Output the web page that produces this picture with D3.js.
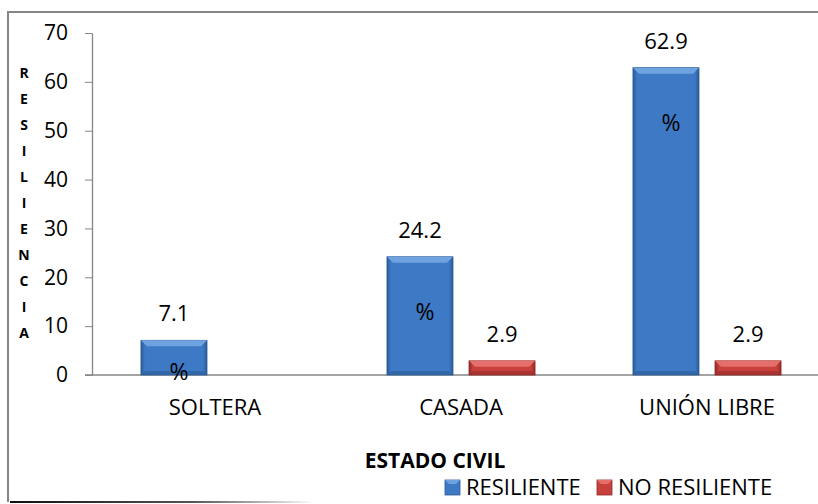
<!DOCTYPE html>
<html lang="es">
<head>
<meta charset="UTF-8">
<title>Resiliencia por estado civil</title>
<style>
    body { margin: 0; background: #fff; }
    #chart text { font-family: "Open Sans", Lato, sans-serif; fill: #000; }
    .axis path, .axis line { stroke: #868686; }
</style>
</head>
<body>
<div id="chart"></div>
<script src="https://d3js.org/d3.v7.min.js"></script>
<script>

    // data
    var categories = ["SOLTERA", "CASADA", "UNIÓN LIBRE"];
    var seriesNames = ["RESILIENTE", "NO RESILIENTE"];
    var resiliente = [7.1, 24.2, 62.9];
    var noResiliente = [null, 2.9, 2.9];
    var yTicks = [0, 10, 20, 30, 40, 50, 60, 70];
    var yTitle = "RESILIENCIA";
    var xTitle = "ESTADO CIVIL";

    var width = 818,
        height = 504;

    var svg = d3.select("#chart").append("svg")
        .attr("width", width)
        .attr("height", height);

    var defs = svg.append("defs");

    // bevel-ish gradients
    function bevelGrad(id, mid, dark) {
        var g = defs.append("linearGradient").attr("id", id)
            .attr("x1", 0).attr("x2", 1).attr("y1", 0).attr("y2", 0);
        g.append("stop").attr("offset", "0%").attr("stop-color", dark);
        g.append("stop").attr("offset", "6%").attr("stop-color", mid);
        g.append("stop").attr("offset", "94%").attr("stop-color", mid);
        g.append("stop").attr("offset", "100%").attr("stop-color", dark);
    }
    bevelGrad("blueGrad", "#3d79c4", "#2a5a96");
    bevelGrad("redGrad", "#c8403c", "#8e2a27");

    var shade = defs.append("linearGradient").attr("id", "shadeLine");
    shade.append("stop").attr("offset", "0%").attr("stop-color", "#111");
    shade.append("stop").attr("offset", "60%").attr("stop-color", "#555");
    shade.append("stop").attr("offset", "100%").attr("stop-color", "#fff");

    var colors = {
        "RESILIENTE": { fill: "url(#blueGrad)", top: "#6fa3e0", bottom: "#2c5d9a", key: "#3d79c4" },
        "NO RESILIENTE": { fill: "url(#redGrad)", top: "#e56f6b", bottom: "#922c29", key: "#c8403c" }
    };

    // frame
    svg.append("line").attr("x1", 8).attr("x2", 8).attr("y1", 11).attr("y2", 502)
        .attr("stroke", "#868686").attr("stroke-width", 2);
    svg.append("line").attr("x1", 8).attr("x2", width).attr("y1", 12).attr("y2", 12)
        .attr("stroke", "#868686").attr("stroke-width", 2);
    svg.append("rect").attr("x", 10).attr("y", 501).attr("width", 305).attr("height", 2)
        .attr("fill", "url(#shadeLine)");

    var x0 = d3.scaleBand()
        .domain(categories)
        .range([92, 830])
        .paddingInner(0.398)
        .paddingOuter(0.199);

    var x1 = d3.scaleBand()
        .domain(seriesNames)
        .range([0, x0.bandwidth()])
        .paddingInner(0.195);

    var y = d3.scaleLinear()
        .domain([0, 70])
        .range([375, 33]);

    // y axis
    var yAxis = svg.append("g")
        .attr("class", "axis")
        .attr("transform", "translate(92,0)")
        .call(d3.axisLeft(y).tickValues(yTicks).tickSize(7).tickSizeOuter(0).tickPadding(17));
    yAxis.selectAll("text").style("font-size", "21px");
    yAxis.select(".domain").attr("stroke-width", 1.3);

    // x axis line
    svg.append("line").attr("class", "axis")
        .attr("x1", 85).attr("x2", width).attr("y1", y(0)).attr("y2", y(0))
        .attr("stroke", "#868686").attr("stroke-width", 1.3);

    svg.append("g").selectAll("text")
        .data(categories)
        .enter().append("text")
        .attr("x", function (d) { return x0(d) + x0.bandwidth() / 2; })
        .attr("y", 415)
        .attr("text-anchor", "middle")
        .style("font-size", "22px")
        .text(function (d) { return d; });

    // bars
    var rows = categories.map(function (c, i) {
        return [
            { cat: c, key: seriesNames[0], value: resiliente[i] },
            { cat: c, key: seriesNames[1], value: noResiliente[i] }
        ].filter(function (d) { return d.value != null; });
    });
    var flat = [].concat.apply([], rows);

    var bars = svg.append("g").selectAll("g.bar")
        .data(flat)
        .enter().append("g")
        .attr("class", "bar")
        .attr("transform", function (d) { return "translate(" + (x0(d.cat) + x1(d.key)) + "," + y(d.value) + ")"; });

    var bw = x1.bandwidth();
    bars.append("rect")
        .attr("width", bw)
        .attr("height", function (d) { return y(0) - y(d.value); })
        .attr("fill", function (d) { return colors[d.key].fill; })
        .attr("stroke", function (d) { return colors[d.key].bottom; })
        .attr("stroke-width", 0.8);
    // top bevel
    bars.append("path")
        .attr("d", function (d) {
            var h = Math.min(6, (y(0) - y(d.value)) / 2);
            return "M0,0 L" + bw + ",0 L" + (bw - h) + "," + h + " L" + h + "," + h + "Z";
        })
        .attr("fill", function (d) { return colors[d.key].top; });
    // bottom bevel
    bars.append("path")
        .attr("d", function (d) {
            var H = y(0) - y(d.value), h = Math.min(4, H / 3);
            return "M0," + H + " L" + bw + "," + H + " L" + (bw - h) + "," + (H - h) + " L" + h + "," + (H - h) + "Z";
        })
        .attr("fill", function (d) { return colors[d.key].bottom; })
        .attr("opacity", 0.6);

    // value labels
    svg.append("g").selectAll("text")
        .data(flat)
        .enter().append("text")
        .attr("x", function (d) { return x0(d.cat) + x1(d.key) + bw / 2; })
        .attr("y", function (d) { return y(d.value) - 19; })
        .attr("text-anchor", "middle")
        .style("font-size", "22px")
        .text(function (d) { return d.value.toFixed(1); });

    // wrapped "%" part of the resiliente labels
    svg.append("g").selectAll("text")
        .data(flat.filter(function (d) { return d.key === seriesNames[0]; }))
        .enter().append("text")
        .attr("x", function (d) { return x0(d.cat) + x1(d.key) + bw / 2 + 5; })
        .attr("y", function (d) { return Math.min(y(d.value) + 63, y(0) + 5); })
        .attr("text-anchor", "middle")
        .style("font-size", "23px")
        .text("%");

    // y title, stacked letters
    svg.append("g").selectAll("text")
        .data(yTitle.split(""))
        .enter().append("text")
        .attr("x", 24)
        .attr("y", function (d, i) { return 78 + i * 26; })
        .attr("text-anchor", "middle")
        .style("font-size", "14px")
        .style("font-weight", "bold")
        .text(function (d) { return d; });

    // x title
    svg.append("text")
        .attr("x", 435)
        .attr("y", 468)
        .attr("text-anchor", "middle")
        .style("font-size", "21px")
        .style("font-weight", "bold")
        .text(xTitle);

    // legend
    var legendX = [445, 597];
    var legend = svg.append("g").selectAll("g")
        .data(seriesNames)
        .enter().append("g")
        .attr("transform", function (d, i) { return "translate(" + legendX[i] + ",480)"; });
    legend.append("rect")
        .attr("width", 15).attr("height", 15)
        .attr("fill", function (d) { return colors[d].key; })
        .attr("stroke", function (d) { return colors[d].bottom; })
        .attr("stroke-width", 0.8);
    legend.append("path")
        .attr("d", "M0,0 L15,0 L11,4 L4,4Z")
        .attr("fill", function (d) { return colors[d].top; });
    legend.append("text")
        .attr("x", 21)
        .attr("y", 15)
        .style("font-size", "22px")
        .text(function (d) { return d; });

</script>
</body>
</html>
